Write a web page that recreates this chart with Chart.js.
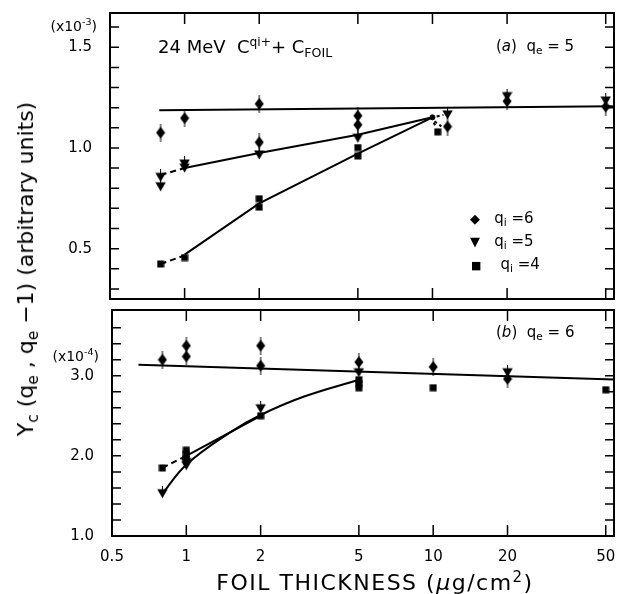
<!DOCTYPE html>
<html><head><meta charset="utf-8">
<script src="https://cdn.jsdelivr.net/npm/chart.js@4"></script>
<style>
body{margin:0;background:#fff;width:620px;height:594px;position:relative;overflow:hidden;font-family:"DejaVu Sans",sans-serif;color:#000;}
canvas{position:absolute;left:0;}
#c1{top:0;} #c2{top:300px;}
.t{position:absolute;white-space:nowrap;line-height:1;transform:translateY(-50%);}
.sb{font-size:70%;vertical-align:-0.3em;}
.sp{font-size:68%;vertical-align:0.55em;}
</style></head><body>
<canvas id="c1" width="620" height="305"></canvas>
<canvas id="c2" width="620" height="294"></canvas>

<div class="t" style="right:523px;top:25px;font-size:14px;">(x10<span class="sp">-3</span>)</div>
<div class="t" style="right:521px;top:355px;font-size:14px;">(x10<span class="sp">-4</span>)</div>
<div class="t" style="left:158px;top:48px;font-size:18px;">24 MeV&nbsp; C<span class="sp">qi+</span>+ C<span class="sb">FOIL</span></div>
<div class="t" style="left:496px;top:47px;font-size:15px;">(<i>a</i>)&nbsp; q<span class="sb">e</span> = 5</div>
<div class="t" style="left:496px;top:333px;font-size:15px;">(<i>b</i>)&nbsp; q<span class="sb">e</span> = 6</div>
<div class="t" style="left:470px;top:219px;font-size:15px;"><span style="font-size:13px">◆</span>&nbsp;&nbsp; q<span class="sb">i</span> =6</div>
<div class="t" style="left:470px;top:242px;font-size:15px;"><span style="font-size:13px">▼</span>&nbsp;&nbsp; q<span class="sb">i</span> =5</div>
<div class="t" style="left:471px;top:265px;font-size:15px;"><span style="font-size:11px">■</span>&nbsp;&nbsp;&nbsp; q<span class="sb">i</span> =4</div>
<div class="t" style="left:375px;top:582px;font-size:22px;letter-spacing:1.5px;transform:translate(-50%,-50%);">FOIL THICKNESS (<i>μ</i>g/cm<span class="sp">2</span>)</div>
<div class="t" style="left:28px;top:269px;font-size:22px;transform:translate(-50%,-50%) rotate(-90deg);">Y<span class="sb">c</span> (q<span class="sb">e</span> , q<span class="sb">e</span> −1) (arbitrary units)</div>

<script>
// ---------- data ----------
const xTickVals = [0.5, 1, 2, 5, 10, 20, 50];
const xTickLabels = ['0.5', '1', '2', '5', '10', '20', '50'];

// panel (a) q_e = 5  (units x10^-3)
const aTicks = [0.3,0.4,0.5,0.6,0.7,0.8,0.9,1.0,1.1,1.2,1.3,1.4,1.5,1.6];
const aLabelVals = [0.5, 1.0, 1.5];
const aLabels = ['0.5', '1.0', '1.5'];
const a6X = [0.8, 1, 2, 2, 5, 5, 11.5, 20, 50];
const a6Y = [1.076, 1.148, 1.219, 1.028, 1.16, 1.115, 1.106, 1.232, 1.205];
const a5X = [0.8, 0.8, 1, 1, 2, 5, 11.5, 20, 50];
const a5Y = [0.859, 0.812, 0.925, 0.905, 0.97, 1.053, 1.169, 1.26, 1.238];
const a4X = [0.8, 1, 2, 2, 5, 5, 10.5];
const a4Y = [0.424, 0.456, 0.748, 0.706, 1.002, 0.96, 1.08];
const aDotX = [10];
const aDotY = [1.152];
const aFlatX = [0.79, 54];
const aFlatY = [1.187, 1.207];
const aQ5DashX = [0.8, 1];
const aQ5DashY = [0.866, 0.9];
const aQ5FitX = [1, 2, 5, 10];
const aQ5FitY = [0.9, 0.975, 1.066, 1.152];
const aQ4DashX = [0.8, 1];
const aQ4DashY = [0.424, 0.466];
const aQ4FitX = [1, 2, 5, 10];
const aQ4FitY = [0.47, 0.725, 0.972, 1.152];
const aSpur1X = [10.4, 11.07], aSpur1Y = [1.156, 1.164];
const aSpur2X = [10.19, 10.86], aSpur2Y = [1.132, 1.107];
const aSpur3X = [10.1, 10.4], aSpur3Y = [1.125, 1.10];

// panel (b) q_e = 6  (units x10^-4)
const bTicks = [1.0,1.2,1.4,1.6,1.8,2.0,2.2,2.4,2.6,2.8,3.0,3.2,3.4,3.6];
const bLabelVals = [1.0, 2.0, 3.0];
const bLabels = ['1.0', '2.0', '3.0'];
const b6X = [0.8, 1, 1, 2, 2, 5, 10, 20];
const b6Y = [3.2, 3.375, 3.24, 3.375, 3.125, 3.17, 3.11, 2.96];
const b5X = [0.8, 1, 1, 2, 5, 20];
const b5Y = [1.54, 1.93, 1.89, 2.6, 3.05, 3.05];
const b4X = [0.8, 1, 1, 1, 2, 5, 5, 5, 10, 50];
const b4Y = [1.85, 2.07, 2.02, 1.97, 2.5, 2.95, 2.9, 2.85, 2.85, 2.825];
const bFlatX = [0.64, 54];
const bFlatY = [3.138, 2.952];
const bQ5CurveX = [0.8, 1, 1.5, 2, 3, 5];
const bQ5CurveY = [1.53, 1.89, 2.29, 2.51, 2.74, 2.95];
const bQ4DashX = [0.8, 1];
const bQ4DashY = [1.85, 2.0];
const bQ4FitX = [1, 2];
const bQ4FitY = [2.0, 2.5];

// ---------- helpers ----------
const pts = (xs, ys) => xs.map((x, i) => ({x, y: ys[i]}));

function marker(kind){
  const c = document.createElement('canvas');
  const g = c.getContext('2d');
  g.fillStyle = '#000'; g.strokeStyle = '#000'; g.lineWidth = 1.6;
  if (kind === 'diamond'){
    c.width = 10; c.height = 18;
    g.beginPath(); g.moveTo(5,0); g.lineTo(5,18); g.stroke();
    g.beginPath(); g.moveTo(5,3); g.lineTo(9.5,9); g.lineTo(5,15); g.lineTo(0.5,9); g.closePath(); g.fill();
  } else if (kind === 'tri'){
    c.width = 11; c.height = 14;
    g.beginPath(); g.moveTo(5.5,0); g.lineTo(5.5,12); g.stroke();
    g.beginPath(); g.moveTo(0.3,3.5); g.lineTo(10.7,3.5); g.lineTo(5.5,12.5); g.closePath(); g.fill();
  } else {
    c.width = 8; c.height = 8;
    g.fillRect(0.5,0.5,7,7);
  }
  return c;
}
const mD = marker('diamond'), mT = marker('tri'), mS = marker('sq');

const scat = (xs, ys, img) => ({data: pts(xs, ys), pointStyle: img, pointRadius: 5, showLine: false, borderColor:'#000', backgroundColor:'#000'});
const line = (xs, ys, dash, tension) => ({data: pts(xs, ys), showLine: true, pointRadius: 0, borderColor:'#000', borderWidth: 2, borderDash: dash || [], tension: tension || 0, fill:false});

const framePlugin = {
  id: 'frame',
  afterDatasetsDraw(chart, args, o){
    const {ctx, chartArea: {left, right, top, bottom}, scales: {x, y}} = chart;
    ctx.save();
    ctx.strokeStyle = '#000';
    ctx.lineWidth = 2;
    ctx.strokeRect(left, top, right - left, bottom - top);
    ctx.lineWidth = 1.5;
    ctx.beginPath();
    xTickVals.forEach(v => {
      const px = x.getPixelForValue(v);
      if (px <= left + 2 || px >= right - 2) return;
      ctx.moveTo(px, top); ctx.lineTo(px, top + 11);
      ctx.moveTo(px, bottom); ctx.lineTo(px, bottom - 11);
    });
    o.yTicks.forEach(v => {
      const py = y.getPixelForValue(v);
      if (py >= bottom - 1 || py <= top + 1) return;
      ctx.moveTo(left, py); ctx.lineTo(left + 9, py);
      ctx.moveTo(right, py); ctx.lineTo(right - 9, py);
    });
    ctx.stroke();
    ctx.restore();
  }
};

function noPad(s){ s.paddingTop = 0; s.paddingBottom = 0; s.paddingLeft = 0; s.paddingRight = 0; }

function makeChart(id, datasets, yMin, yMax, yTicks, yLabelVals, yLabels, showX, yWidth, padTop, padBottom){
  return new Chart(document.getElementById(id), {
    type: 'scatter',
    data: {datasets},
    options: {
      responsive: false, animation: false, devicePixelRatio: 1,
      layout: {padding: {left: 0, right: 1, top: padTop, bottom: padBottom}},
      plugins: {legend: {display: false}, tooltip: {enabled: false}, frame: {yTicks}},
      scales: {
        x: {
          type: 'logarithmic', min: 0.5, max: 54, display: showX,
          grid: {display: false}, border: {display: false},
          afterBuildTicks: s => { s.ticks = xTickVals.map(v => ({value: v})); },
          ticks: {autoSkip: false, maxRotation: 0, padding: 4, color: '#000',
            font: {family: 'DejaVu Sans', size: 15},
            callback: v => { const i = xTickVals.indexOf(v); return i >= 0 ? xTickLabels[i] : ''; }},
          afterFit: s => { if (showX) s.height = 58; noPad(s); }
        },
        y: {
          type: 'linear', min: yMin, max: yMax,
          grid: {display: false}, border: {display: false},
          afterBuildTicks: s => { s.ticks = yTicks.map(v => ({value: v})); },
          ticks: {autoSkip: false, padding: 10, color: '#000',
            font: {family: 'DejaVu Sans', size: 15},
            callback: v => { const i = yLabelVals.findIndex(l => Math.abs(l - v) < 1e-6); return i >= 0 ? yLabels[i] : ''; }},
          afterFit: s => { s.width = yWidth; noPad(s); }
        }
      }
    },
    plugins: [framePlugin]
  });
}

makeChart('c1', [
  scat(a6X, a6Y, mD),
  scat(a5X, a5Y, mT),
  scat(a4X, a4Y, mS),
  {data: pts(aDotX, aDotY), pointStyle: 'circle', pointRadius: 2.5, backgroundColor: '#000', borderColor: '#000', showLine: false},
  line(aFlatX, aFlatY),
  line(aQ5DashX, aQ5DashY, [6, 4]),
  line(aQ5FitX, aQ5FitY),
  line(aQ4DashX, aQ4DashY, [6, 4]),
  line(aQ4FitX, aQ4FitY),
  line(aSpur1X, aSpur1Y, [3, 3]),
  line(aSpur2X, aSpur2Y, [3, 3]),
  line(aSpur3X, aSpur3Y, [3, 3])
], 0.25, 1.67, aTicks, aLabelVals, aLabels, false, 110, 13, 1);

makeChart('c2', [
  scat(b6X, b6Y, mD),
  scat(b5X, b5Y, mT),
  scat(b4X, b4Y, mS),
  line(bFlatX, bFlatY),
  line(bQ5CurveX, bQ5CurveY, [], 0.4),
  line(bQ4DashX, bQ4DashY, [6, 4]),
  line(bQ4FitX, bQ4FitY)
], 1.0, 3.82, bTicks, bLabelVals, bLabels, true, 112, 10, 0);
</script>
</body></html>
